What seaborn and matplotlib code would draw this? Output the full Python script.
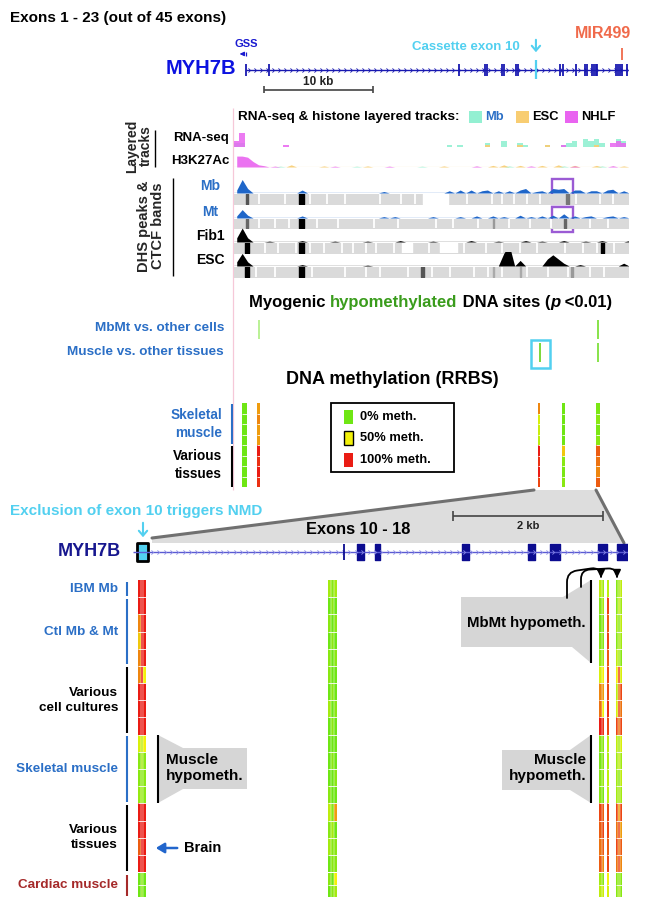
import numpy as np
import pandas as pd
import matplotlib.pyplot as plt
import seaborn as sns
from matplotlib.colors import LinearSegmentedColormap
from matplotlib.patches import Polygon, Rectangle
from matplotlib.path import Path

sns.set_style('white')
plt.rcParams['font.family'] = ['Liberation Sans', 'DejaVu Sans']
plt.rcParams['font.weight'] = 'bold'

# ---------------- data (genomic positions in kb from the left edge of each window) ----------------
WIN_KB = 36.15          # exons 1 - 23 window
ZOOM_KB = 6.6           # exons 10 - 18 window

top_gene_span = (1.1, 36.1)
top_exons_kb = [1.1, 3.2, 20.6, 23.0, 23.2, 24.6, 24.8, 25.9, 26.1, 29.9, 30.2, 31.4,
                32.2, 32.4, 32.8, 33.0, 33.2, 33.3, 35.0, 35.2, 35.4, 35.6, 36.1]
cassette_kb = 27.7
mir499_kb = 35.6
gss_kb = 1.1

# RNA-seq layered track (Mb / ESC / NHLF)
rna_mb_kb = [0.3, 0.8, 19.8, 20.9, 23.3, 24.9, 26.1, 26.6, 28.9, 30.1, 30.6, 31.4, 32.3, 32.7, 33.3, 33.8, 35.1, 35.8]
rna_mb_h = [2, 2, 1, 1, 2, 3, 2, 1, 1, 1, 2, 3, 4, 3, 4, 2, 4, 3]
rna_esc_kb = [23.1, 26.3, 28.9, 33.0]
rna_esc_h = [1, 1, 1, 1]
rna_nhlf_kb = [0.3, 0.8, 4.7, 30.1, 34.9, 35.4, 35.9]
rna_nhlf_h = [3, 7, 1, 1, 2, 3, 2]

# H3K27Ac layered track
h3_nhlf_kb = [0.25, 0.75, 1.25, 1.75, 2.25, 2.75, 3.5, 9.0, 14.0, 22.0, 27.0, 31.0, 34.5]
h3_nhlf_h = [10, 10, 9, 5, 2, 1.2, 0.8, 0.8, 0.8, 1, 1, 1, 1.2]
h3_esc_kb = [5.3, 8.0, 12.0, 19.0, 23.5, 24.5, 26.0, 28.2, 29.5, 31.2, 33.0, 35.5]
h3_esc_h = [2, 1, 1, 1, 1.5, 2, 1.5, 1.5, 2, 1.5, 1.5, 1]
h3_mb_kb = [4.0, 11.0, 17.0, 25.0, 30.0, 33.8]
h3_mb_h = [0.8, 0.8, 0.8, 1, 1, 1]

# DHS signal peaks
mb_dhs_kb = [0.3, 0.8, 1.3, 6.1, 13.7, 19.8, 20.9, 21.7, 22.6, 23.3, 24.2, 25.1, 26.1, 26.6,
             27.5, 28.4, 29.3, 29.8, 30.3, 31.0, 31.7, 32.5, 33.3, 34.0, 34.8, 35.5]
mb_dhs_h = [2, 9, 3, 2, 1, 1.5, 2, 2, 1.5, 2, 1.5, 1.5, 2, 3, 1, 1.5, 3, 2.5, 3, 2, 2, 1.5, 1.5, 2, 2.5, 1.5]
mt_dhs_kb = [0.3, 0.8, 1.3, 6.1, 13.7, 14.7, 18.0, 20.5, 22.0, 23.5, 24.5, 26.1, 27.0, 28.0,
             29.0, 30.4, 31.2, 32.3, 32.9, 34.0, 34.5, 35.5]
mt_dhs_h = [1.5, 6, 2, 1.5, 1, 1, 1, 1, 1.5, 1.5, 1, 2, 1, 1.5, 2, 3, 1.5, 1, 1.5, 1, 1.5, 1]
fib1_dhs_kb = [0.3, 0.8, 1.3, 3.0, 6.1, 9.0, 12.0, 15.2, 18.0, 21.7, 24.0, 26.5, 28.0, 30.1, 32.0, 33.6, 36.0]
fib1_dhs_h = [3, 10, 3, 0.6, 1, 0.6, 0.6, 1, 0.6, 1, 0.6, 1, 0.6, 1, 0.6, 1, 1]
esc_dhs_kb = [0.3, 0.8, 1.3, 6.1, 12.0, 24.8, 25.1, 25.4, 26.1, 28.6, 29.1, 29.6, 30.1, 31.7, 35.8]
esc_dhs_h = [3, 9, 3, 1, 0.6, 9, 10, 5, 4, 5, 8, 5, 2, 1, 2]

# CTCF bands: thin white gaps, blank stretches, dark bands (kb, width, shade)
mb_band_gaps = [2.3, 4.7, 7.0, 8.5, 10.2, 13.4, 15.3, 16.6, 21.4, 23.7, 24.6, 25.7, 26.9, 28.1, 31.4, 33.6, 34.8]
mb_band_blank = [(17.3, 19.6)]
mb_band_dark = [(1.2, 0.25, '#555555'), (6.2, 0.4, 'black'), (30.6, 0.2, '#777777')]
mt_band_gaps = [2.3, 3.8, 5.0, 7.6, 9.5, 12.8, 15.0, 18.5, 20.1, 22.4, 25.2, 27.2, 29.1, 32.7, 34.3]
mt_band_blank = []
mt_band_dark = [(1.2, 0.25, '#666666'), (6.2, 0.4, 'black'), (23.8, 0.15, '#999999'), (30.4, 0.2, '#666666')]
fib1_band_gaps = [2.8, 4.0, 5.7, 7.0, 8.3, 9.9, 10.9, 12.1, 13.0, 14.7, 17.9, 21.1, 23.1, 24.6,
                  26.2, 27.8, 30.4, 32.0, 33.3, 34.9]
fib1_band_blank = [(15.4, 16.3), (18.9, 20.5)]
fib1_band_dark = [(1.2, 0.35, 'black'), (6.2, 0.4, 'black'), (33.8, 0.25, 'black')]
esc_band_gaps = [2.0, 3.8, 7.2, 10.2, 12.1, 13.4, 16.0, 18.2, 19.8, 22.0, 23.3, 24.6, 26.9, 28.8, 30.6, 32.7, 33.9]
esc_band_blank = []
esc_band_dark = [(1.2, 0.35, 'black'), (6.2, 0.4, 'black'), (17.3, 0.25, '#555555'),
                 (23.8, 0.15, '#aaaaaa'), (26.3, 0.15, '#aaaaaa'), (31.0, 0.2, '#999999')]

# myogenic hypomethylated sites
mbmt_sites_kb = [2.25, 33.4]
mbmt_site_colors = ['#b4f08c', '#7ee03c']
muscle_sites_kb = [28.1, 33.4]
muscle_site_colors = ['#6fd42a', '#7ee03c']

# RRBS (0 = unmethylated, 1 = fully methylated); rows: 4 skeletal muscle + 4 various tissues
top_rrbs_kb = [1.0, 2.25, 28.0, 30.2, 33.4]
top_rrbs = [
    [0, 0, 0, 0, 0, 0, 0, 0],
    [0.7, 0.75, 0.7, 0.7, 1, 0.95, 1, 0.95],
    [0.75, 0.4, 0.35, 0.3, 1, 0.95, 1, 0.9],
    [0, 0, 0, 0, 0.6, 0.1, 0.05, 0.1],
    [0.05, 0.1, 0.05, 0.1, 0.85, 0.8, 0.75, 0.85],
]

# zoomed gene model (exons 10 - 18)
zoom_gene_span = (0.0, 6.6)
zoom_exon10 = (0.05, 0.2)
zoom_thin_exon = 2.81
zoom_exons = [(2.99, 3.08), (3.23, 3.29), (4.39, 4.48), (5.27, 5.36), (5.56, 5.69), (6.2, 6.32), (6.45, 6.6)]

# bottom RRBS columns; rows: IBM Mb (1), Ctl Mb & Mt (4), cell cultures (4),
# skeletal muscle (4), various tissues (4), cardiac muscle (2)
group_names = ['IBM Mb', 'Ctl Mb & Mt', 'Various\ncell cultures', 'Skeletal muscle', 'Various\ntissues', 'Cardiac muscle']
group_rows = [1, 4, 4, 4, 4, 2]
bot_cols_kb = [0.12, 2.66, 6.247, 6.335, 6.48]
col_left = [[1, 1, 1],
            [1, 1, 1], [0.75, 1, 1], [0.6, 1, 1], [0.75, 1, 1],
            [0.75, 1, 0.5], [1, 1, 1], [1, 1, 1], [1, 1, 1],
            [0.4, 0.3, 0.5], [0.1, 0.2, 0.1], [0.1, 0.1, 0.1], [0.15, 0.15, 0.1],
            [1, 1, 1], [1, 1, 1], [0.85, 1, 1], [1, 1, 1],
            [0, 0.1, 0], [0, 0.1, 0]]
col_mid = [[0.2, 0.1, 0.2],
           [0, 0.1, 0], [0.1, 0, 0.1], [0, 0.1, 0], [0.1, 0, 0.1],
           [0.1, 0, 0], [0, 0.1, 0], [0.2, 0, 0.1], [0, 0.1, 0],
           [0, 0, 0], [0, 0.1, 0], [0, 0, 0.1], [0.1, 0, 0],
           [0.3, 0.1, 0.7], [0.1, 0.2, 0], [0.2, 0.1, 0.1], [0, 0.1, 0.1],
           [0.1, 0, 0.5], [0, 0.1, 0.2]]
col_a = [[0.3, 0.2],
         [0.1, 0.2], [0.05, 0.1], [0.1, 0.1], [0.15, 0.2],
         [0.4, 0.5], [0.75, 0.7], [0.8, 0.5], [1, 0.95],
         [0.1, 0.1], [0.05, 0.1], [0.1, 0.15], [0.1, 0.05],
         [0.9, 0.85], [0.85, 0.9], [0.8, 0.85], [0.85, 0.75],
         [0.2, 0.1], [0.3, 0.35]]
col_b = [[0.3],
         [0.9], [0.85], [0.9], [0.85],
         [0.9], [0.9], [0.95], [0.9],
         [0.3], [0.25], [0.3], [0.3],
         [0.9], [0.9], [0.85], [0.9],
         [0.5], [0.4]]
col_c = [[0.1, 0.2, 0.3],
         [0.1, 0.3, 0.2], [0.2, 0.1, 0.3], [0.1, 0.2, 0.2], [0.3, 0.2, 0.1],
         [0.5, 0.9, 0.4], [0.3, 0.8, 0.9], [0.4, 0.9, 0.8], [0.9, 0.8, 0.9],
         [0.3, 0.2, 0.4], [0.2, 0.3, 0.2], [0.2, 0.1, 0.3], [0.2, 0.2, 0.2],
         [0.9, 0.7, 0.9], [0.8, 0.9, 0.7], [0.9, 0.8, 0.85], [0.8, 0.9, 0.75],
         [0.1, 0.1, 0.1], [0.1, 0.2, 0.1]]
bot_cols = [col_left, col_mid, col_a, col_b, col_c]

# ---------------- styles ----------------
blue_lbl = '#2b6fc6'
cyan = '#52d0f0'
navy_top = '#1818b0'
mir_col = '#f06a4b'
green_txt = '#3a9c1c'
dhs_blue = '#1f66c9'
mb_col, esc_col, nhlf_col = '#93f0d2', '#f8cd72', '#e964f0'
purple = '#9b5bd4'
band_grey = '#dadada'
meth_cmap = LinearSegmentedColormap.from_list('meth', ['#6fe614', '#f2f20a', '#ea1c14'])

W, H = 646, 910
TOP_X0, TOP_PX_KB = 234, 10.9
BOT_X0, BOT_PX_KB = 133, 75.0
TOP_X1 = TOP_X0 + WIN_KB * TOP_PX_KB
BOT_X1 = BOT_X0 + ZOOM_KB * BOT_PX_KB
top_rrbs_w = [0.45, 0.22, 0.22, 0.28, 0.38]
bot_cols_w = [0.107, 0.12, 0.075, 0.03, 0.09]

fig = plt.figure(figsize=(W / 100, H / 100), dpi=100)

# overlay in pixel coordinates for labels / annotations
ov = fig.add_axes([0, 0, 1, 1])
ov.set_xlim(0, W)
ov.set_ylim(H, 0)
ov.axis('off')
ov.set_zorder(0)


def add_ax(x0, x1, y0, y1):
    ax = fig.add_axes([x0 / W, 1 - y1 / H, (x1 - x0) / W, (y1 - y0) / H])
    ax.patch.set_visible(False)
    ax.set_zorder(2)
    return ax


def txt(x, y, s, size=9, color='black', ha='left', **kw):
    return ov.text(x, y, s, fontsize=size, color=color, ha=ha, va='center', fontweight='bold', **kw)


def meth_heat(x0, x1, y0, y1, vals):
    arr = np.array(vals, dtype=float)
    if arr.ndim == 1:
        arr = arr[:, None]
    m = add_ax(x0, x1, y0, y1)
    sns.heatmap(arr, ax=m, cmap=meth_cmap, vmin=0, vmax=1, cbar=False, linewidths=0,
                xticklabels=False, yticklabels=False)
    nr, nc = arr.shape
    if nr > 1:
        m.hlines(np.arange(1, nr), 0, nc, color='white', lw=0.6)
    if nc > 1:
        m.vlines(np.arange(1, nc), 0, nr, color='white', lw=0.35)
    return m


chevron = Path([(-0.5, 1), (0.5, 0), (-0.5, -1)], [Path.MOVETO, Path.LINETO, Path.LINETO])

# ---------------- top gene model ----------------
txt(10, 18, 'Exons 1 - 23 (out of 45 exons)', 11)
gax = add_ax(TOP_X0, TOP_X1, 40, 100)
gax.set_xlim(0, WIN_KB)
gax.set_ylim(-2, 2)
gax.hlines(0, *top_gene_span, color=navy_top, lw=1)
chev = np.arange(top_gene_span[0] + 0.3, top_gene_span[1], 0.55)
gax.plot(chev, np.zeros_like(chev), ls='none', marker=chevron, ms=3, mec=navy_top, mfc='none', mew=0.6)
gax.vlines(top_exons_kb, -0.4, 0.4, color=navy_top, lw=1.3)
gax.vlines(cassette_kb, -0.6, 0.65, color=cyan, lw=1.6)
gax.vlines(mir499_kb, 0.67, 1.5, color=mir_col, lw=1.3)
gax.hlines(-1.33, 2.75, 12.75, color='#444444', lw=1.2)
gax.vlines([2.75, 12.75], -1.55, -1.1, color='#444444', lw=1.2)
gax.text(7.75, -0.8, '10 kb', fontsize=8.5, ha='center', va='center', fontweight='bold', color='#222222')
gax.annotate('', xy=(gss_kb - 0.85, 1.07), xytext=(gss_kb, 1.07),
             arrowprops=dict(arrowstyle='-|>,head_length=0.25,head_width=0.12', color='#1a1ad0', lw=0.9))
gax.vlines(gss_kb, 0.93, 1.2, color='#1a1ad0', lw=0.9)
gax.text(gss_kb, 1.73, 'GSS', fontsize=8, ha='center', va='center', fontweight='bold', color='#1a1ad0')
gax.text(cassette_kb - 1.5, 1.53, 'Cassette exon 10', fontsize=9.5, ha='right', va='center',
         fontweight='bold', color=cyan)
gax.annotate('', xy=(cassette_kb, 1.0), xytext=(cassette_kb, 2.2),
             arrowprops=dict(arrowstyle='->,head_length=0.35,head_width=0.3', color=cyan, lw=1.5))
gax.axis('off')
txt(603, 34, 'MIR499', 11.5, mir_col, ha='center')
txt(236, 68, 'MYH7B', 14.5, '#0c12e0', ha='right')

# ---------------- layered tracks & DHS ----------------


def signal(ax, kb, h, color, element='poly', alpha=1.0):
    df = pd.DataFrame({'kb': kb, 'h': h})
    sns.histplot(data=df, x='kb', weights='h', binwidth=0.5, binrange=(0, 36.5), element=element,
                 fill=True, color=color, alpha=alpha, linewidth=0, ax=ax)


txt(238, 117, 'RNA-seq & histone layered tracks:', 9.7)
for x0, col, name, tc in [(469, mb_col, 'Mb', blue_lbl), (516, esc_col, 'ESC', 'black'), (565, nhlf_col, 'NHLF', 'black')]:
    ov.add_patch(Rectangle((x0, 111), 13, 12, color=col, lw=0))
    txt(x0 + 16, 117, name, 9.3, tc)

rax = add_ax(TOP_X0, TOP_X1, 127, 147)
signal(rax, rna_mb_kb, rna_mb_h, mb_col, 'bars', 0.9)
signal(rax, rna_esc_kb, rna_esc_h, esc_col, 'bars', 0.9)
signal(rax, rna_nhlf_kb, rna_nhlf_h, nhlf_col, 'bars', 0.85)
rax.set_xlim(0, WIN_KB)
rax.set_ylim(0, 10)
rax.axis('off')

kax = add_ax(TOP_X0, TOP_X1, 155, 167)
signal(kax, h3_esc_kb, h3_esc_h, esc_col, 'poly', 0.9)
signal(kax, h3_mb_kb, h3_mb_h, mb_col, 'poly', 0.8)
signal(kax, h3_nhlf_kb, h3_nhlf_h, nhlf_col, 'poly', 0.9)
kax.axhline(0.4, color=esc_col, lw=0.8)
kax.axhline(0.2, color=nhlf_col, lw=0.6, alpha=0.7)
kax.set_xlim(0, WIN_KB)
kax.set_ylim(0, 11)
kax.axis('off')

dhs_tracks = [
    ('Mb', blue_lbl, dhs_blue, mb_dhs_kb, mb_dhs_h, (178, 193), (194, 204), mb_band_gaps, mb_band_blank, mb_band_dark),
    ('Mt', blue_lbl, dhs_blue, mt_dhs_kb, mt_dhs_h, (204, 218), (219, 228), mt_band_gaps, mt_band_blank, mt_band_dark),
    ('Fib1', 'black', 'black', fib1_dhs_kb, fib1_dhs_h, (228, 242), (243, 253), fib1_band_gaps, fib1_band_blank, fib1_band_dark),
    ('ESC', 'black', 'black', esc_dhs_kb, esc_dhs_h, (252, 266), (267, 277), esc_band_gaps, esc_band_blank, esc_band_dark),
]
for name, lc, sc, kb, h, sy, by, gaps, blanks, darks in dhs_tracks:
    sax = add_ax(TOP_X0, TOP_X1, *sy)
    signal(sax, kb, h, sc)
    sax.axhline(0.25, color=sc, lw=0.9)
    sax.set_xlim(0, WIN_KB)
    sax.set_ylim(0, 10)
    sax.axis('off')
    bax = add_ax(TOP_X0, TOP_X1, *by)
    bax.broken_barh([(0, WIN_KB)], (0, 1), color=band_grey)
    if blanks:
        bax.broken_barh([(a, b - a) for a, b in blanks], (0, 1), color='white')
    bax.vlines(gaps, 0, 1, color='white', lw=1.3)
    for pos, w, c in darks:
        bax.broken_barh([(pos - w / 2, w)], (0, 1), color=c)
    bax.set_xlim(0, WIN_KB)
    bax.set_ylim(0, 1)
    bax.axis('off')
    txt(210, sy[0] + 8, name, 10, lc, ha='center')
# ESC peak clipped top
ov.hlines(251.5, 505, 511, color=nhlf_col, lw=1.5)

txt(229, 138, 'RNA-seq', 9.5, ha='right')
txt(229, 161, 'H3K27Ac', 9.5, ha='right')
ov.text(139, 146, 'Layered\ntracks', fontsize=10, fontweight='bold', rotation=90, ha='center', va='center', linespacing=0.95)
ov.vlines(155, 130, 167, color='black', lw=1)
ov.text(151, 226, 'DHS peaks &\nCTCF bands', fontsize=10.5, fontweight='bold', rotation=90, ha='center', va='center', linespacing=0.95)
ov.vlines(173, 178, 276, color='black', lw=1)
ov.vlines(233, 108, 490, color='#f6c8d8', lw=0.9)
for y0 in (179, 207):
    ov.add_patch(Rectangle((552, y0), 21, 25, fill=False, ec=purple, lw=1.7))

# ---------------- hypomethylated sites ----------------
t = txt(249, 303, 'Myogenic ', 12)
for piece, col, style in [('hypomethylated', green_txt, 'normal'), (' DNA sites (', 'black', 'normal'),
                          ('p', 'black', 'italic'), (' <0.01)', 'black', 'normal')]:
    t = ov.annotate(piece, xy=(1, 0.5), xycoords=t, va='center', ha='left', color=col,
                    fontstyle=style, fontsize=12, fontweight='bold')
txt(224, 328, 'MbMt vs. other cells', 9.7, blue_lbl, ha='right')
txt(224, 352, 'Muscle vs. other tissues', 9.7, blue_lbl, ha='right')
hax = add_ax(TOP_X0, TOP_X1, 318, 364)
hax.set_xlim(0, WIN_KB)
hax.set_ylim(2, 0)
hax.vlines(mbmt_sites_kb, 0.1, 0.9, colors=mbmt_site_colors, lw=1.3)
hax.vlines(muscle_sites_kb, 1.1, 1.9, colors=muscle_site_colors, lw=1.3)
hax.axis('off')
ov.add_patch(Rectangle((531, 340), 19, 28, fill=False, ec=cyan, lw=1.8))

# ---------------- RRBS top ----------------
txt(392, 380, 'DNA methylation (RRBS)', 13, ha='center')
for kb, w, vals in zip(top_rrbs_kb, top_rrbs_w, top_rrbs):
    meth_heat(TOP_X0 + (kb - w / 2) * TOP_PX_KB, TOP_X0 + (kb + w / 2) * TOP_PX_KB, 403, 487, vals)
txt(222, 424, 'Skeletal\nmuscle', 9.8, blue_lbl, ha='right', multialignment='right', linespacing=1.3)
ov.vlines(232, 404, 444, color=blue_lbl, lw=1.5)
txt(222, 465, 'Various\ntissues', 9.8, ha='right', multialignment='right', linespacing=1.3)
ov.vlines(232, 446, 487, color='black', lw=1.5)
ov.add_patch(Rectangle((331, 403), 123, 69, fill=False, ec='black', lw=1.3))
for y, v, lab in [(417, 0.0, '0% meth.'), (438, 0.5, '50% meth.'), (460, 1.0, '100% meth.')]:
    ov.add_patch(Rectangle((344, y - 7), 9, 14, fc=meth_cmap(v), ec='black' if v == 0.5 else 'none', lw=1))
    txt(360, y, lab, 9.3)

# ---------------- zoom to exons 10 - 18 ----------------
ov.add_patch(Polygon([(534, 490), (596, 490), (624, 543), (152, 543), (152, 538)], closed=True,
                     fc='#dddddd', ec='none'))
ov.plot([534, 152], [490, 538], color='#707070', lw=2.2)
ov.plot([596, 624], [490, 543], color='#707070', lw=2.2)
txt(10, 511, 'Exclusion of exon 10 triggers NMD', 11, cyan)
ov.annotate('', xy=(143, 540), xytext=(143, 520),
            arrowprops=dict(arrowstyle='->,head_length=0.35,head_width=0.3', color=cyan, lw=1.5))
txt(358, 529, 'Exons 10 - 18', 11.8, ha='center')
txt(121, 551, 'MYH7B', 13, '#17178f', ha='right')

zax = add_ax(BOT_X0, BOT_X1, 506, 598)
zax.set_xlim(0, ZOOM_KB)
zax.set_ylim(-2.3, 2.3)
zax.hlines(0, *zoom_gene_span, color='#5a5ad2', lw=1)
zchev = np.arange(zoom_gene_span[0] + 0.25, zoom_gene_span[1], 0.085)
zax.plot(zchev, np.zeros_like(zchev), ls='none', marker=chevron, ms=3, mec='#8a8ae6', mfc='none', mew=0.6)
zax.vlines(zoom_thin_exon, -0.4, 0.4, color='#0c0c90', lw=1.3)
zax.broken_barh([(s, e - s) for s, e in zoom_exons], (-0.38, 0.76), color='#0c0c90')
zax.broken_barh([(zoom_exon10[0], zoom_exon10[1] - zoom_exon10[0])], (-0.47, 0.94), fc=cyan, ec='black', lw=2)
zax.hlines(1.8, 4.27, 6.27, color='#444444', lw=1.2)
zax.vlines([4.27, 6.27], 1.55, 2.05, color='#444444', lw=1.2)
zax.text(5.27, 1.3, '2 kb', fontsize=8, ha='center', va='center', fontweight='bold', color='#222222')
zax.axis('off')

# ---------------- bottom RRBS columns ----------------
ROW0, ROW_H, CARD0, CARD1 = 580, 17.18, 873, 897
n_main = sum(group_rows[:-1])
for kb, w, vals in zip(bot_cols_kb, bot_cols_w, bot_cols):
    x0 = BOT_X0 + (kb - w / 2) * BOT_PX_KB
    x1 = BOT_X0 + (kb + w / 2) * BOT_PX_KB
    meth_heat(x0, x1, ROW0, ROW0 + n_main * ROW_H, vals[:n_main])
    meth_heat(x0, x1, CARD0, CARD1, vals[n_main:])

group_colors = [blue_lbl, blue_lbl, 'black', blue_lbl, 'black', '#a52a2a']
start = 0
for name, n, col in zip(group_names, group_rows, group_colors):
    if name == 'Cardiac muscle':
        ya, yb = CARD0, CARD1
    else:
        ya, yb = ROW0 + start * ROW_H, ROW0 + (start + n) * ROW_H
    ov.vlines(127, ya + 1.5, yb - 1.5, color=col, lw=1.5)
    txt(118, (ya + yb) / 2, name, 9.7, col, ha='right', multialignment='right', linespacing=1.3)
    start += n

# callouts
ov.add_patch(Polygon([(158, 735), (183, 748), (247, 748), (247, 789), (183, 789), (158, 803)], fc='#d6d6d6', ec='none'))
ov.vlines(158, 735, 803, color='black', lw=1.5)
txt(166, 768, 'Muscle\nhypometh.', 11, linespacing=1.2)
ov.add_patch(Polygon([(591, 735), (570, 750), (502, 750), (502, 790), (570, 790), (591, 803)], fc='#d6d6d6', ec='none'))
ov.vlines(591, 735, 803, color='black', lw=1.5)
txt(586, 768, 'Muscle\nhypometh.', 11, ha='right', multialignment='right', linespacing=1.2)
ov.add_patch(Polygon([(591, 580), (563, 597), (461, 597), (461, 647), (572, 647), (591, 663)], fc='#d6d6d6', ec='none'))
ov.vlines(591, 580, 663, color='black', lw=1.5)
txt(586, 623, 'MbMt hypometh.', 10.8, ha='right')
ov.annotate('', xy=(601, 578), xytext=(567, 598),
            arrowprops=dict(arrowstyle='-|>,head_length=0.45,head_width=0.22', color='black', lw=1.3,
                            shrinkA=0, shrinkB=0,
                            connectionstyle='arc,angleA=90,armA=26,angleB=90,armB=11,rad=10'))
ov.annotate('', xy=(617, 578), xytext=(581, 587),
            arrowprops=dict(arrowstyle='-|>,head_length=0.45,head_width=0.22', color='black', lw=1.3,
                            shrinkA=0, shrinkB=0,
                            connectionstyle='arc,angleA=90,armA=17,angleB=90,armB=10,rad=9'))
ov.annotate('', xy=(153, 848), xytext=(180, 848),
            arrowprops=dict(arrowstyle='-|>,head_length=0.5,head_width=0.3', color='#2266cc', lw=1.8))
txt(184, 848, 'Brain', 10.5)

fig.savefig('out.png', dpi=100)
